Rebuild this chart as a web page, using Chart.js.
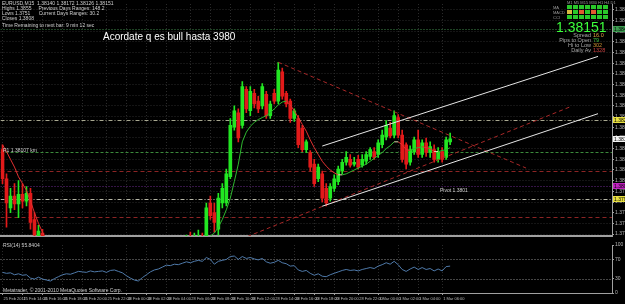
<!DOCTYPE html>
<html><head><meta charset="utf-8">
<script src="https://cdn.jsdelivr.net/npm/chart.js@4.4.0/dist/chart.umd.min.js"></script>
<style>
html,body{margin:0;padding:0;background:#000;width:625px;height:304px;overflow:hidden;font-family:"Liberation Sans",Arial,sans-serif;}
canvas{position:absolute;left:0;}
#main{top:0;}
#rsi{top:241px;}
.t{position:absolute;white-space:pre;color:#cfcfcf;font-size:5px;line-height:5px;}
.note{position:absolute;left:103px;top:31px;color:#fff;font-size:10px;line-height:12px;white-space:pre;}
.cells{position:absolute;left:567px;top:5px;display:grid;grid-template-columns:repeat(7,5px);grid-auto-rows:4px;gap:1px;}
.cells div{background:#2ac82a;}
.big{position:absolute;left:556px;top:20px;color:#3cff3c;font-size:14px;line-height:15px;}
.inf{position:absolute;left:540px;width:51px;text-align:right;color:#a8a8a8;font-size:5.5px;line-height:5px;white-space:pre;}
.val{position:absolute;left:593px;font-size:5.5px;line-height:5px;white-space:pre;}
</style></head><body>
<canvas id="main" width="625" height="240"></canvas>
<canvas id="rsi" width="625" height="63"></canvas>

<div class="t" style="left:2px;top:1px">EURUSD,M15  1.38140 1.38172 1.38126 1.38151</div>
<div class="t" style="left:2px;top:6px">Highs 1.3855     Previous Days Ranges: 148.2</div>
<div class="t" style="left:2px;top:11px">Lows 1.3751      Current Days Ranges: 30.2</div>
<div class="t" style="left:2px;top:16px">Closes 1.3808</div>
<div class="t" style="left:2px;top:23px">Time Remaining to next bar: 9 min 12 sec</div>
<div class="note">Acordate q es bull hasta 3980</div>
<div class="t" style="left:3px;top:148px">R1 1.38107 km</div>
<div class="t" style="left:440px;top:188px">Pivot 1.3801</div>
<div class="t" style="left:3px;top:243px">RSI(14) 55.8404</div>
<div class="t" style="left:3px;top:288px">Metatrader, © 2001-2010 MetaQuotes Software Corp.</div>

<div class="t" style="left:567px;top:0px;color:#9a9a9a;font-size:4px;">M1 M5 M15 M30 H1 H4 D1</div>
<div class="t" style="left:553px;top:5px;color:#9a9a9a;font-size:4px;line-height:5px">MA
MACD
CCI</div>
<div class="cells" id="cells"></div>
<div class="big">1.38151</div>
<div class="inf" style="top:33px">Spread</div><div class="val" style="top:33px;color:#e0a040">16.0</div>
<div class="inf" style="top:38px">Pips to Open</div><div class="val" style="top:38px;color:#40c040">79</div>
<div class="inf" style="top:43px">Hi to Low</div><div class="val" style="top:43px;color:#d09030">302</div>
<div class="inf" style="top:48px">Daily Av</div><div class="val" style="top:48px;color:#c84040">1328</div>

<script>
// ---------------- DATA ----------------
const barCount = 153;
const timeLabels = ["25 Feb 2011","25 Feb 14:00","25 Feb 16:00","25 Feb 18:00","25 Feb 20:00","25 Feb 22:00","28 Feb 00:00","28 Feb 02:00","28 Feb 04:00","28 Feb 06:00","28 Feb 08:00","28 Feb 10:00","28 Feb 12:00","28 Feb 14:00","28 Feb 16:00","28 Feb 18:00","28 Feb 20:00","28 Feb 22:00","1 Mar 00:00","1 Mar 02:00","1 Mar 04:00","1 Mar 06:00"];
const timeLabelBars = [0,5,10,15,20,26,31,36,41,47,52,57,62,68,73,78,83,89,94,99,104,110];

const priceMin = 1.37851, priceMax = 1.38568;
const priceTicks = [1.38550,1.38517,1.38484,1.38451,1.38418,1.38385,1.38352,1.38319,1.38286,1.38253,1.38220,1.38187,1.38154,1.38121,1.38088,1.38055,1.38022,1.37989,1.37956,1.37923,1.37890,1.37857];

const open = [1.38118,1.38028,1.37938,1.37974,1.37950,1.37980,1.37959,1.37983,1.37902,1.37848,
1.37860,1.37818,1.37773,1.37728,1.37743,1.37758,1.37782,1.37794,1.37782,1.37803,
1.37818,1.37803,1.37794,1.37812,1.37800,1.37818,1.37827,1.37812,1.37824,1.37833,
1.37818,1.37803,1.37773,1.37743,1.37713,1.37698,1.37722,1.37743,1.37758,1.37773,
1.37782,1.37794,1.37812,1.37803,1.37818,1.37812,1.37824,1.37836,1.37824,1.37833,
1.37848,1.37830,1.37953,1.37923,1.37872,1.37953,1.37953,1.38034,1.38187,1.38232,
1.38193,1.38304,1.38238,1.38292,1.38268,1.38253,1.38289,1.38223,1.38292,1.38268,
1.38358,1.38292,1.38268,1.38214,1.38214,1.38184,1.38118,1.38109,1.38073,1.38028,
1.38043,1.37998,1.37968,1.37998,1.38019,1.38052,1.38079,1.38088,1.38073,1.38088,
1.38070,1.38082,1.38097,1.38112,1.38103,1.38133,1.38157,1.38184,1.38163,1.38217,
1.38163,1.38133,1.38079,1.38112,1.38148,1.38103,1.38139,1.38109,1.38118,1.38088,
1.38112,1.38094,1.38142];
const high = [1.38133,1.38043,1.37998,1.38013,1.38022,1.38013,1.38004,1.37998,1.37923,1.37884,
1.37872,1.37830,1.37785,1.37755,1.37770,1.37794,1.37806,1.37806,1.37815,1.37830,
1.37830,1.37815,1.37824,1.37824,1.37830,1.37839,1.37839,1.37836,1.37845,1.37845,
1.37830,1.37815,1.37785,1.37755,1.37725,1.37734,1.37755,1.37770,1.37785,1.37794,
1.37806,1.37824,1.37824,1.37830,1.37830,1.37836,1.37854,1.37863,1.37860,1.37869,
1.37860,1.37953,1.37974,1.37953,1.37983,1.38013,1.38058,1.38214,1.38253,1.38244,
1.38328,1.38313,1.38313,1.38304,1.38283,1.38322,1.38298,1.38268,1.38304,1.38388,
1.38370,1.38298,1.38274,1.38244,1.38223,1.38193,1.38148,1.38115,1.38088,1.38073,
1.38052,1.38013,1.38013,1.38040,1.38067,1.38088,1.38112,1.38103,1.38094,1.38100,
1.38103,1.38112,1.38124,1.38124,1.38148,1.38178,1.38208,1.38202,1.38238,1.38226,
1.38178,1.38139,1.38130,1.38157,1.38178,1.38148,1.38154,1.38142,1.38133,1.38124,
1.38124,1.38157,1.38169];
const low = [1.38013,1.37878,1.37923,1.37932,1.37908,1.37938,1.37944,1.37872,1.37833,1.37836,
1.37803,1.37761,1.37716,1.37716,1.37731,1.37746,1.37770,1.37770,1.37770,1.37791,
1.37791,1.37782,1.37782,1.37788,1.37788,1.37806,1.37800,1.37800,1.37812,1.37806,
1.37791,1.37761,1.37731,1.37701,1.37686,1.37686,1.37710,1.37731,1.37746,1.37761,
1.37770,1.37782,1.37791,1.37791,1.37800,1.37800,1.37812,1.37812,1.37812,1.37803,
1.37812,1.37818,1.37902,1.37863,1.37854,1.37938,1.37944,1.38028,1.38178,1.38142,
1.38184,1.38232,1.38223,1.38247,1.38232,1.38244,1.38214,1.38214,1.38259,1.38259,
1.38274,1.38250,1.38202,1.38205,1.38124,1.38112,1.38109,1.38052,1.38004,1.38019,
1.37956,1.37944,1.37959,1.37989,1.38010,1.38043,1.38070,1.38064,1.38067,1.38058,
1.38064,1.38073,1.38088,1.38088,1.38094,1.38124,1.38148,1.38154,1.38154,1.38154,
1.38079,1.38058,1.38070,1.38103,1.38094,1.38094,1.38097,1.38094,1.38079,1.38079,
1.38079,1.38088,1.38133];
const close = [1.38028,1.37953,1.37974,1.37950,1.37980,1.37959,1.37983,1.37893,1.37854,1.37866,
1.37818,1.37773,1.37728,1.37743,1.37758,1.37782,1.37794,1.37782,1.37803,1.37818,
1.37803,1.37794,1.37812,1.37800,1.37818,1.37827,1.37812,1.37824,1.37833,1.37818,
1.37803,1.37773,1.37743,1.37713,1.37698,1.37722,1.37743,1.37758,1.37773,1.37782,
1.37794,1.37812,1.37803,1.37818,1.37812,1.37824,1.37836,1.37824,1.37833,1.37848,
1.37830,1.37938,1.37914,1.37893,1.37968,1.37998,1.38043,1.38193,1.38238,1.38154,
1.38313,1.38244,1.38298,1.38259,1.38244,1.38313,1.38223,1.38259,1.38268,1.38364,
1.38283,1.38259,1.38214,1.38238,1.38133,1.38118,1.38142,1.38064,1.38013,1.38064,
1.37968,1.37953,1.38004,1.38028,1.38058,1.38079,1.38094,1.38070,1.38079,1.38064,
1.38088,1.38103,1.38118,1.38094,1.38139,1.38163,1.38193,1.38160,1.38223,1.38163,
1.38088,1.38073,1.38118,1.38148,1.38103,1.38139,1.38109,1.38127,1.38088,1.38112,
1.38088,1.38148,1.38151];
const maValues = [1.38133,1.38112,1.38088,1.38064,1.38034,1.38013,1.37992,1.37959,1.37923,1.37890,
1.37863,1.37839,1.37818,1.37800,1.37788,1.37782,1.37779,1.37779,1.37782,1.37788,
1.37794,1.37797,1.37800,1.37803,1.37806,1.37812,1.37815,1.37818,1.37821,1.37821,
1.37818,1.37809,1.37794,1.37776,1.37758,1.37749,1.37746,1.37749,1.37755,1.37764,
1.37773,1.37782,1.37791,1.37800,1.37809,1.37818,1.37824,1.37830,1.37833,1.37836,
1.37839,1.37845,1.37851,1.37860,1.37878,1.37902,1.37932,1.37968,1.38019,1.38073,
1.38142,1.38172,1.38190,1.38202,1.38211,1.38217,1.38223,1.38232,1.38244,1.38256,
1.38265,1.38268,1.38256,1.38238,1.38217,1.38196,1.38175,1.38148,1.38124,1.38103,
1.38082,1.38067,1.38055,1.38046,1.38040,1.38040,1.38043,1.38049,1.38055,1.38061,
1.38067,1.38073,1.38082,1.38091,1.38100,1.38109,1.38121,1.38130,1.38142,1.38142,
1.38133,1.38118,1.38115,1.38121,1.38124,1.38127,1.38124,1.38121,1.38112,1.38112,
1.38115,1.38118,1.38124];
const rsiValues = [43,41,42,38,40,37,38,31,29,33,
29,27,25,30,34,38,40,39,42,45,
44,43,46,44,45,46,43,47,48,45,
42,36,31,27,25,32,38,44,48,50,
54,58,57,60,59,62,65,63,66,68,
66,74,70,60,66,68,70,76,77,70,
76,72,74,71,69,72,65,62,64,68,
63,61,56,57,48,45,47,41,37,40,
35,34,38,41,44,47,49,47,48,46,
49,51,53,51,56,59,63,60,66,59,
49,45,50,54,49,53,49,51,46,50,
46,55,56];
const rsiLevels = [70, 30];
const rsiTicks = [0, 30, 70, 100];

// horizontal levels (prices) and trend lines (bar index / price pairs)
const levelPrices = [1.38490, 1.38208, 1.38112, 1.38052, 1.38007, 1.37965, 1.37911];
const trendBars = [[80, 149], [80, 149], [69, 131], [58, 142]];
const trendPrices = [[1.38129, 1.38406], [1.37943, 1.38229], [1.38388, 1.38061], [1.37833, 1.38250]];

// ---------------- STYLES ----------------
const levelStyles = [
  {color:'#3f8a4a', dash:[1,2], tag:'#3c9c50'},
  {color:'#a8a890', dash:[4,2,1,2], tag:'#e8e040'},
  {color:'#3c8a3c', dash:[3,2], tag:null},
  {color:'#8c2424', dash:[4,3], tag:null},
  {color:'#6a2a8c', dash:[1,2], tag:'#c020c0'},
  {color:'#b8b8a8', dash:[4,2,1,2], tag:'#e8e040'},
  {color:'#8c2424', dash:[4,3], tag:null}
];
const trendStyles = [
  {color:'#e6e6e6', dash:[]},
  {color:'#e6e6e6', dash:[]},
  {color:'#a82828', dash:[4,3]},
  {color:'#a82828', dash:[4,3]}
];
const bull = '#22e622', bear = '#e21a1a';
const gridColor = '#2a2a2a', axisColor = '#a0a0a0', tickText = '#b8b8b8';
const timeFont = {size: 4, family: '"Liberation Sans Narrow", "Liberation Sans", Arial, sans-serif'};

// panel cells
const cellColors = [
 '#2ac82a','#2ac82a','#2ac82a','#2ac82a','#2ac82a','#2ac82a','#2ac82a',
 '#d8b840','#2ac82a','#e05a30','#2ac82a','#e05a30','#2ac82a','#2ac82a',
 '#2ac82a','#2ac82a','#2ac82a','#2ac82a','#2ac82a','#2ac82a','#2ac82a'];
const cellsEl = document.getElementById('cells');
cellColors.forEach(c => { const d = document.createElement('div'); d.style.background = c; cellsEl.appendChild(d); });

// ---------------- CHARTS ----------------
const slotLabels = Array.from({length: barCount}, (_, i) => {
  const k = timeLabelBars.indexOf(i);
  return k >= 0 ? timeLabels[k] : '';
});
const keepLabelTicks = ax => { ax.ticks = ax.ticks.filter(t => timeLabelBars.includes(t.value)); };

const levelPlugin = {
  id: 'levels',
  beforeDatasetsDraw(chart) {
    const {ctx, chartArea: a, scales: {y}} = chart;
    ctx.save();
    ctx.beginPath(); ctx.rect(a.left, a.top, a.right - a.left, a.bottom - a.top); ctx.clip();
    levelPrices.forEach((p, i) => {
      const py = Math.round(y.getPixelForValue(p)) + 0.5;
      ctx.strokeStyle = levelStyles[i].color; ctx.lineWidth = 1;
      ctx.setLineDash(levelStyles[i].dash);
      ctx.beginPath(); ctx.moveTo(a.left, py); ctx.lineTo(a.right, py); ctx.stroke();
    });
    ctx.restore();
  },
  afterDraw(chart) {
    const {ctx, chartArea: a, scales: {y}} = chart;
    ctx.save();
    const tag = (p, fill) => {
      const py = Math.round(y.getPixelForValue(p));
      ctx.fillStyle = fill; ctx.fillRect(a.right + 1, py - 3, 13, 6);
      ctx.fillStyle = '#000'; ctx.font = '5px "Liberation Sans"'; ctx.textBaseline = 'middle';
      ctx.fillText(p.toFixed(5), a.right + 2, py + 0.5);
    };
    levelPrices.forEach((p, i) => { if (levelStyles[i].tag) tag(p, levelStyles[i].tag); });
    tag(close[close.length - 1], '#f4f4f4');
    ctx.restore();
  }
};

const rsiLevelPlugin = {
  id: 'rsiLevels',
  beforeDatasetsDraw(chart) {
    const {ctx, chartArea: a, scales: {y}} = chart;
    ctx.save();
    ctx.strokeStyle = '#8a8a8a'; ctx.lineWidth = 1; ctx.setLineDash([1, 2]);
    rsiLevels.forEach(v => {
      const py = Math.round(y.getPixelForValue(v)) + 0.5;
      ctx.beginPath(); ctx.moveTo(a.left, py); ctx.lineTo(a.right, py); ctx.stroke();
    });
    ctx.restore();
  }
};

const trendDatasets = trendBars.map((b, k) => {
  const data = new Array(barCount).fill(null);
  data[b[0]] = trendPrices[k][0];
  data[b[1]] = trendPrices[k][1];
  return {type:'line', data, borderColor: trendStyles[k].color, borderDash: trendStyles[k].dash,
          borderWidth:1, pointRadius:0, spanGaps:true, tension:0, order:1};
});

const candleColor = ctx => close[ctx.dataIndex] >= open[ctx.dataIndex] ? bull : bear;

Chart.defaults.font.family = '"Liberation Sans", Arial, sans-serif';
Chart.defaults.animation = false;

new Chart(document.getElementById('main'), {
  type: 'bar',
  data: {
    labels: slotLabels,
    datasets: [
      {data: low.map((l, i) => [l, high[i]]), backgroundColor: candleColor, barThickness: 1, grouped: false, order: 5},
      {data: open.map((o, i) => [o, close[i]]), backgroundColor: candleColor, barThickness: 3, minBarLength: 1, grouped: false, order: 4},
      {type:'line', data: maValues, borderWidth: 1, pointRadius: 0, tension: 0, order: 3,
       segment: {borderColor: c => {
         const d = c.p1.parsed.y - c.p0.parsed.y;
         return d > 0.00002 ? '#2fb82f' : (d < -0.00002 ? '#e03030' : '#e0dcb0');
       }}},
      ...trendDatasets
    ]
  },
  options: {
    responsive: false, devicePixelRatio: 1, events: [],
    layout: {padding: {left: 0.5, top: 0, right: 0, bottom: 0}},
    plugins: {legend: {display: false}, tooltip: {enabled: false}},
    scales: {
      x: {type: 'category', offset: true,
          grid: {offset: false, color: gridColor, drawTicks: false},
          border: {display: true, color: axisColor, width: 2, dash: [1, 2]},
          ticks: {display: false, autoSkip: false},
          afterBuildTicks: keepLabelTicks,
          afterFit: ax => { ax.height = 1; }},
      y: {position: 'right', min: priceMin, max: priceMax,
          afterBuildTicks: ax => { ax.ticks = priceTicks.map(v => ({value: v})); },
          ticks: {color: tickText, font: {size: 5}, padding: 1, autoSkip: false, callback: v => v.toFixed(5)},
          grid: {color: gridColor, drawTicks: true, tickLength: 2, tickColor: axisColor},
          border: {display: true, color: axisColor, dash: [1, 2]},
          afterFit: ax => { ax.width = 13; }}
    }
  },
  plugins: [levelPlugin]
});

new Chart(document.getElementById('rsi'), {
  type: 'line',
  data: {
    labels: slotLabels,
    datasets: [{data: rsiValues, borderColor: '#4f7aaa', borderWidth: 1, pointRadius: 0, tension: 0}]
  },
  options: {
    responsive: false, devicePixelRatio: 1, events: [],
    layout: {padding: {left: 0.5, top: 1, right: 0, bottom: 0}},
    plugins: {legend: {display: false}, tooltip: {enabled: false}},
    scales: {
      x: {type: 'category', offset: true,
          grid: {offset: false, color: gridColor, drawTicks: true, tickLength: 2, tickColor: axisColor},
          border: {display: true, color: axisColor, dash: [1, 2]},
          ticks: {autoSkip: false, maxRotation: 0, minRotation: 0, align: 'start', labelOffset: 1,
                  color: tickText, font: timeFont, padding: 1, callback: v => slotLabels[v]},
          afterBuildTicks: keepLabelTicks,
          afterFit: ax => { ax.height = 11; }},
      y: {position: 'right', min: 0, max: 100,
          afterBuildTicks: ax => { ax.ticks = rsiTicks.map(v => ({value: v})); },
          ticks: {color: tickText, font: {size: 5}, padding: 1, autoSkip: false},
          grid: {drawOnChartArea: false, drawTicks: true, tickLength: 2, tickColor: axisColor},
          border: {display: true, color: axisColor},
          afterFit: ax => { ax.width = 13; }}
    }
  },
  plugins: [rsiLevelPlugin]
});
</script>
</body></html>
